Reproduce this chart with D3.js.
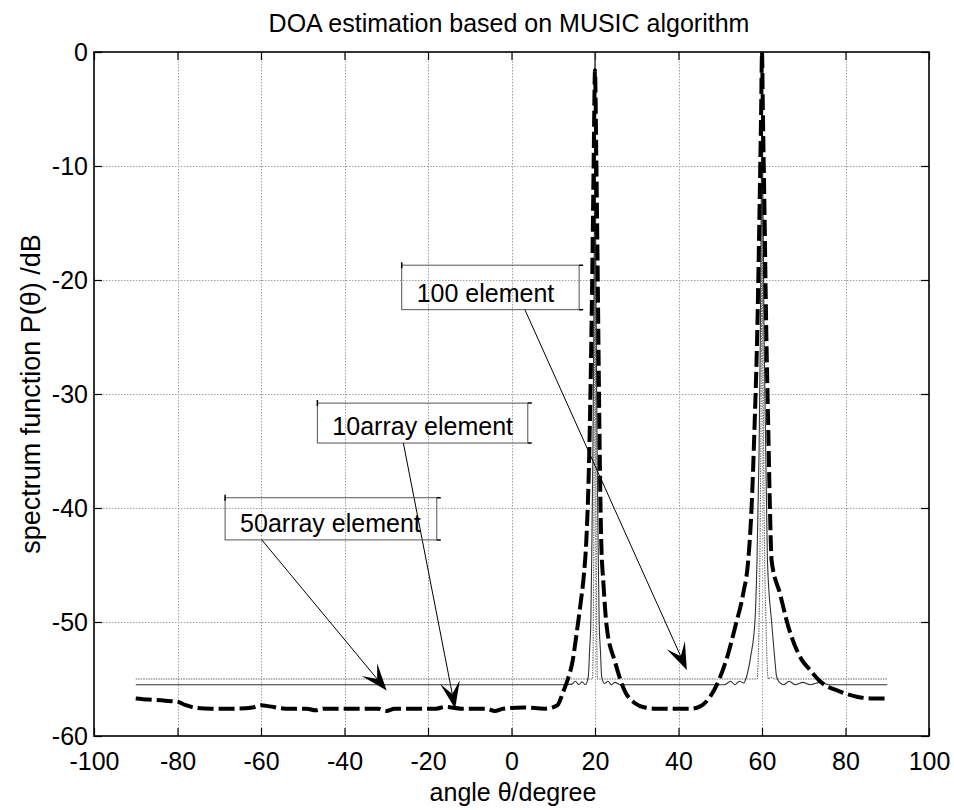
<!DOCTYPE html>
<html>
<head>
<meta charset="utf-8">
<script src="https://cdn.jsdelivr.net/npm/d3@7"></script>
<style>
  html, body { margin: 0; padding: 0; background: #fff; }
  svg { display: block; font-family: "Liberation Sans", Arial, Helvetica, sans-serif; }
</style>
</head>
<body>
<svg id="chart" width="954" height="810"></svg>
<script>
// ---- data: MUSIC pseudo-spectrum (dB) vs. angle (degree) ----
const xTicks = [-100, -80, -60, -40, -20, 0, 20, 40, 60, 80, 100];
const yTicks = [0, -10, -20, -30, -40, -50, -60];

// 10 array elements (thick dashed)
const angle10 = [-90, -87, -83, -80, -78, -76, -72, -66, -62, -60, -58, -54, -49, -47, -45, -38, -32, -30, -28, -22, -18, -16, -12, -6, -4, -2, 3, 8, 11,
  12.3, 13.5, 14.6, 15.6, 16.5, 17.3, 17.9, 18.5, 19.0, 19.4, 19.7, 20,
  20.3, 20.6, 20.9, 21.2, 21.5, 22.0, 22.8, 24.8, 27.2, 29.5, 32, 35, 40, 43, 45.2, 47.5, 49.9, 51.8, 53.6, 55.5, 56.7,
  57.5, 58.2, 58.9, 59.4, 59.8, 60,
  60.2, 60.6, 61.0, 61.5, 61.9, 62.3, 64.3, 66.3, 69.5, 71.5, 73.9, 78.7, 82.7, 86, 90];
const db10 = [-56.7, -56.8, -56.9, -57.0, -57.3, -57.5, -57.6, -57.6, -57.5, -57.3, -57.4, -57.6, -57.6, -57.75, -57.6, -57.6, -57.6, -57.8, -57.6, -57.6, -57.6, -57.45, -57.6, -57.6, -57.8, -57.6, -57.5, -57.6, -57.3,
  -56.2, -55.0, -53.5, -51.0, -48.5, -46, -43, -37, -28, -18, -9, -1.6,
  -9, -18, -28, -37, -43, -46.5, -50.4, -53.5, -56.1, -57.1, -57.5, -57.6, -57.6, -57.6, -57.4, -56.6, -54.9, -52.9, -50.4, -47.5, -44.6,
  -40, -33, -24, -14, -5, 0,
  -5, -14, -24, -33, -40, -44.6, -47.5, -50.4, -53.3, -54.2, -55.2, -56.1, -56.55, -56.7, -56.7];

// 50 array elements (thin solid)
const angle50 = [-90, 12, 14.5, 15.3, 16.1, 16.9, 17.7, 18.4, 18.7, 19.0, 19.2, 19.5, 19.7, 19.9, 20,
  20.1, 20.3, 20.5, 20.8, 21.0, 21.3, 21.6, 22.3, 23.1, 23.9, 24.8, 26, 51, 52.5, 53.5, 54.6, 55.6, 56.3,
  57.3, 58.3, 58.8, 59.3, 59.6, 59.85, 60,
  60.2, 60.5, 60.9, 61.3, 62.3, 63.0, 63.5, 64.2, 65.2, 66.5, 68.0, 69.8, 71.5, 74, 76, 90];
const db50 = [-55.5, -55.5, -55.45, -55.2, -55.5, -55.25, -55.5, -54.8, -52.5, -50, -44.6, -35, -25, -12, 0,
  -12, -25, -35, -44.6, -50, -52.5, -54.8, -55.4, -55.2, -55.5, -55.3, -55.5, -55.5, -55.2, -55.5, -55.2, -55.35, -54.8,
  -53, -50, -44.6, -35, -25, -12, 0,
  -12, -25, -35, -44.6, -50, -53, -54.8, -55.3, -55.5, -55.2, -55.5, -55.3, -55.5, -55.3, -55.5, -55.5];

// 100 array elements (thin dotted)
const angle100 = [-90, 19.4, 19.6, 19.75, 19.85, 19.95, 20, 20.05, 20.15, 20.25, 20.4, 20.6,
  58.8, 59.3, 59.6, 59.8, 59.95, 60, 60.1, 60.3, 60.5, 60.95, 61.5, 62.2, 63, 90];
const db100 = [-55.0, -55.0, -50, -40, -30, -15, 0, -15, -30, -40, -50, -55.0,
  -55.0, -50, -40, -30, -15, 0, -15, -30, -40, -50, -55.0, -54.85, -55.0, -55.0];

// text arrows: label, box corners (data units), arrow tail and tip (data units)
const noteLabels = ["100 element", "10array element", "50array element"];
const noteBoxX0 = [-26.3, -46.5, -68.6];
const noteBoxX1 = [16.2, 3.9, -17.9];
const noteBoxY0 = [-18.7, -30.8, -39.1];
const noteBoxY1 = [-22.6, -34.3, -42.8];
const noteTailX = [3.2, -25.9, -59.8];
const noteTipX = [42, -13.5, -29.9];
const noteTipY = [-54.2, -57.6, -56.0];

(function draw() {
  const svg = d3.select("#chart");
  const x = d3.scaleLinear().domain([-100, 100]).range([94, 929]);
  const y = d3.scaleLinear().domain([-60, 0]).range([736, 52]);
  const [pL, pR] = x.range();
  const [pB, pT] = y.range();
  const fs = 25;

  svg.append("defs").append("clipPath").attr("id", "plotClip")
    .append("rect").attr("x", pL).attr("y", pT).attr("width", pR - pL).attr("height", pB - pT);

  // grid
  const grid = svg.append("g").attr("stroke", "#a0a0a0").attr("stroke-width", 1).attr("stroke-dasharray", "1.5,1.5");
  grid.selectAll(".gx").data(xTicks.slice(1, -1)).join("line")
    .attr("x1", d => Math.round(x(d)) + 0.5).attr("x2", d => Math.round(x(d)) + 0.5)
    .attr("y1", pT).attr("y2", pB);
  grid.selectAll(".gy").data(yTicks.slice(1, -1)).join("line")
    .attr("y1", d => Math.round(y(d)) + 0.5).attr("y2", d => Math.round(y(d)) + 0.5)
    .attr("x1", pL).attr("x2", pR);

  // axes with inward ticks on all four sides
  const tickLen = 8;
  const fmt = d => String(d);
  const axB = svg.append("g").attr("transform", `translate(0,${pB})`)
    .call(d3.axisBottom(x).tickValues(xTicks).tickSize(-tickLen).tickPadding(16).tickFormat(fmt));
  const axT = svg.append("g").attr("transform", `translate(0,${pT})`)
    .call(d3.axisTop(x).tickValues(xTicks).tickSize(-tickLen).tickFormat(""));
  const axL = svg.append("g").attr("transform", `translate(${pL},0)`)
    .call(d3.axisLeft(y).tickValues(yTicks).tickSize(-tickLen).tickPadding(6).tickFormat(fmt));
  const axR = svg.append("g").attr("transform", `translate(${pR},0)`)
    .call(d3.axisRight(y).tickValues(yTicks).tickSize(-tickLen).tickFormat(""));
  [axB, axT, axL, axR].forEach(a => {
    a.select(".domain").remove();
    a.selectAll(".tick line").attr("stroke", "#000").attr("stroke-width", 1.2);
    a.selectAll("text").attr("font-size", fs).attr("fill", "#000")
      .attr("font-family", "'Liberation Sans', Arial, sans-serif");
  });
  axL.selectAll("text").attr("dy", "0.35em");

  // series
  const plot = svg.append("g").attr("clip-path", "url(#plotClip)");
  const line = d3.line().x(d => x(d[0])).y(d => y(d[1])).curve(d3.curveMonotoneX);
  const zip = (a, b) => a.map((v, i) => [v, b[i]]);

  plot.append("path").datum(zip(angle100, db100)).attr("d", line)
    .attr("fill", "none").attr("stroke", "#666").attr("stroke-width", 1.1).attr("stroke-dasharray", "1.5,1");
  plot.append("path").datum(zip(angle50, db50)).attr("d", line)
    .attr("fill", "none").attr("stroke", "#333").attr("stroke-width", 1.1);
  plot.append("path").datum(zip(angle10, db10)).attr("d", line)
    .attr("fill", "none").attr("stroke", "#000").attr("stroke-width", 4).attr("stroke-dasharray", "16,5");

  // axes box
  svg.append("rect").attr("x", pL).attr("y", pT).attr("width", pR - pL).attr("height", pB - pT)
    .attr("fill", "none").attr("stroke", "#000").attr("stroke-width", 1.6);

  // text arrows
  const notes = svg.append("g");
  noteLabels.forEach((label, i) => {
    const bx0 = x(noteBoxX0[i]), bx1 = x(noteBoxX1[i]);
    const by0 = y(noteBoxY0[i]), by1 = y(noteBoxY1[i]);
    const tx = x(noteTailX[i]), ty = by1;
    const px = x(noteTipX[i]), py = y(noteTipY[i]);

    notes.append("rect").attr("x", bx0).attr("y", by0).attr("width", bx1 - bx0).attr("height", by1 - by0)
      .attr("fill", "none").attr("stroke", "#555").attr("stroke-width", 1);
    // small corner marks
    notes.append("path")
      .attr("d", `M${bx0},${by0 - 3}V${by0 + 3} M${bx1},${by0}h4 M${bx1},${by1}h4`)
      .attr("stroke", "#000").attr("stroke-width", 1.5).attr("fill", "none");

    notes.append("text").attr("x", bx0 + 15).attr("y", by1 - 8)
      .attr("font-size", fs).attr("fill", "#000").text(label);

    // arrow shaft and filled head
    const dx = px - tx, dy = py - ty, len = Math.hypot(dx, dy);
    const ux = dx / len, uy = dy / len, nx = -uy, ny = ux;
    const L = 27, W = 10;
    notes.append("line").attr("x1", tx).attr("y1", ty).attr("x2", px - ux * L * 0.5).attr("y2", py - uy * L * 0.5)
      .attr("stroke", "#000").attr("stroke-width", 1);
    const head = [
      [px, py],
      [px - ux * L + nx * W, py - uy * L + ny * W],
      [px - ux * L * 0.55, py - uy * L * 0.55],
      [px - ux * L - nx * W, py - uy * L - ny * W]
    ];
    notes.append("path").attr("d", "M" + head.join("L") + "Z").attr("fill", "#000");
  });

  // titles
  svg.append("text").attr("x", 509).attr("y", 32).attr("text-anchor", "middle")
    .attr("font-size", fs).text("DOA estimation based on MUSIC algorithm");
  svg.append("text").attr("x", 513).attr("y", 801).attr("text-anchor", "middle")
    .attr("font-size", fs).text("angle θ/degree");
  svg.append("text").attr("transform", `translate(40,${(pT + pB) / 2}) rotate(-90)`).attr("text-anchor", "middle")
    .attr("font-size", 27).text("spectrum function P(θ) /dB");
})();
</script>
</body>
</html>
